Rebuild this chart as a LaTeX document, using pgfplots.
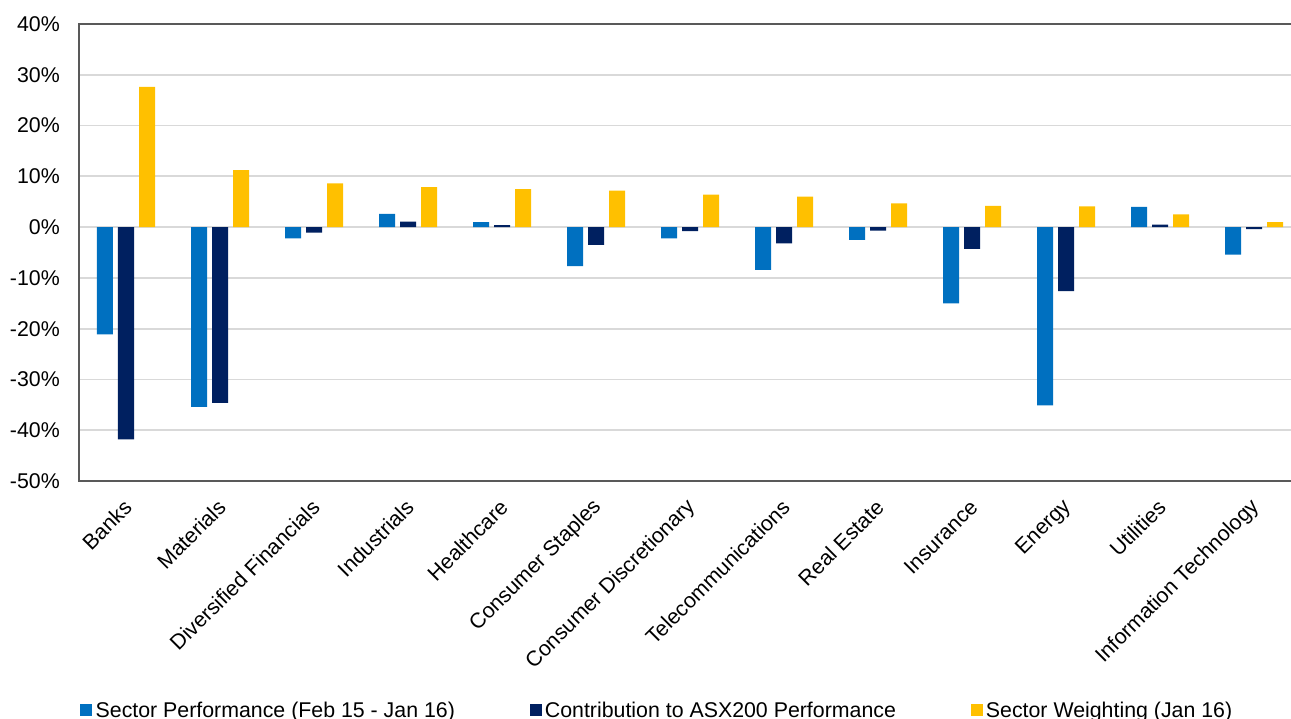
\documentclass[border=0pt]{standalone}
\usepackage{fontspec}
\setmainfont{Liberation Sans}
\usepackage{pgfplots}
\usepackage{pgfplotstable}
\pgfplotsset{compat=1.18}
\definecolor{cblue}{HTML}{0070C0}
\definecolor{cnavy}{HTML}{002060}
\definecolor{cyellow}{HTML}{FFC000}
\definecolor{cgrid}{HTML}{D9D9D9}
\definecolor{cframe}{HTML}{595959}
\pgfplotstableread{
k perf contrib weight
0 -21.1 -41.8 27.6
1 -35.4 -34.6 11.2
2 -2.2 -1.1 8.6
3 2.6 1.1 7.9
4 1.0 0.4 7.5
5 -7.7 -3.5 7.2
6 -2.2 -0.8 6.4
7 -8.4 -3.2 6.0
8 -2.5 -0.7 4.7
9 -15.0 -4.3 4.2
10 -35.1 -12.6 4.1
11 4.0 0.5 2.5
12 -5.4 -0.4 1.0
}\datatable
\begin{document}
\begin{tikzpicture}
\path[use as bounding box] (-59.25pt,-177.75pt) rectangle (909pt,360.75pt);
\begin{axis}[
  at={(0,0)}, anchor=south west,
  scale only axis,
  width=916.5pt, height=342.75pt,
  font=\fontsize{16}{19}\selectfont,
  xmin=-0.5, xmax=12.5,
  ymin=-50, ymax=40,
  ytick={-50,-40,...,40},
  yticklabels={-50\%,-40\%,-30\%,-20\%,-10\%,0\%,10\%,20\%,30\%,40\%},
  xtick={0,...,12},
  xticklabels={Banks,Materials,Diversified Financials,Industrials,Healthcare,Consumer Staples,Consumer Discretionary,Telecommunications,Real Estate,Insurance,Energy,Utilities,Information Technology},
  major tick length=0pt,
  ymajorgrids,
  grid style={cgrid, line width=1.3pt},
  axis line style={cframe, line width=1.1pt},
  yticklabel style={anchor=east, inner sep=0pt, xshift=-14.25pt},
  xticklabel style={xshift=1.5pt, yshift=-17pt, rotate=45, anchor=east, inner sep=0pt},
  ybar, bar width=12pt,
  legend columns=3,
  legend image code/.code={\fill[#1] (0pt,-4pt) rectangle (9pt,4.5pt);},
  legend style={at={(0,0)}, anchor=west, xshift=1pt, yshift=-172pt,
    draw=none, fill=none, inner sep=0pt, outer sep=0pt,
    font=\fontsize{16}{19}\selectfont,
    nodes={inner sep=0pt},
    /tikz/every odd column/.append style={column sep=2.5pt},
    /tikz/every even column/.append style={column sep=56pt}},
]
\addplot[fill=cblue, draw=none, bar shift=-15.75pt] table[x=k, y=perf] {\datatable};
\addlegendentry{Sector Performance (Feb 15 - Jan 16)}
\addplot[fill=cnavy, draw=none, bar shift=0pt] table[x=k, y=contrib] {\datatable};
\addlegendentry{Contribution to ASX200 Performance}
\addplot[fill=cyellow, draw=none, bar shift=15.75pt] table[x=k, y=weight] {\datatable};
\addlegendentry{Sector Weighting (Jan 16)}
\end{axis}
\end{tikzpicture}
\end{document}
